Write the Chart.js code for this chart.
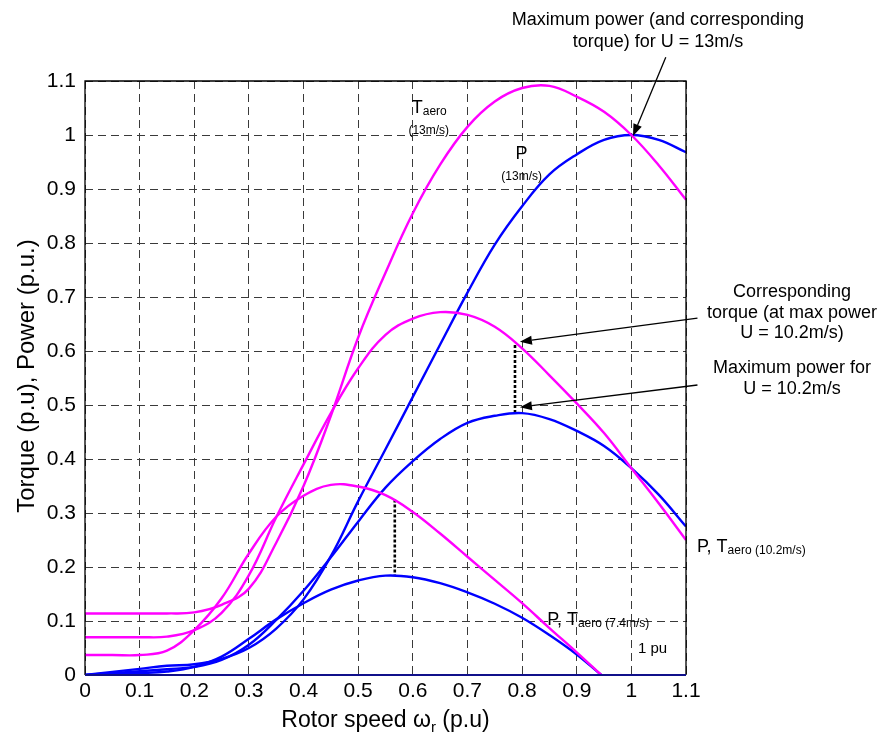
<!DOCTYPE html>
<html><head><meta charset="utf-8">
<script src="https://cdn.jsdelivr.net/npm/chart.js@4.4.1/dist/chart.umd.min.js"></script>
<style>html,body{margin:0;padding:0;background:#fff;}canvas{display:block;}</style>
</head><body>
<canvas id="c" width="880" height="738"></canvas>
<script>
const FONT = "'Liberation Sans', Arial, Helvetica, sans-serif";

// rotor speed samples (p.u.)
const speeds   = [0,0.05,0.1,0.15,0.2,0.25,0.3,0.35,0.4,0.45,0.5,0.55,0.6,0.65,0.7,0.75,0.8,0.85,0.9,0.95,1.0,1.05,1.1];
const speeds74 = [0,0.05,0.1,0.15,0.2,0.25,0.3,0.35,0.4,0.45,0.5,0.55,0.6,0.65,0.7,0.75,0.8,0.85,0.9,0.945];

// U = 13 m/s
const torque13 = [0.114,0.114,0.114,0.114,0.116,0.130,0.160,0.245,0.350,0.480,0.625,0.745,0.855,0.945,1.015,1.062,1.087,1.091,1.071,1.043,1.000,0.944,0.880];
const power13  = [0,0.0057,0.0114,0.0171,0.020,0.030,0.050,0.086,0.140,0.220,0.322,0.418,0.515,0.612,0.708,0.797,0.868,0.927,0.964,0.991,1.000,0.991,0.968];

// U = 10.2 m/s
const torque102 = [0.070,0.070,0.070,0.071,0.083,0.115,0.185,0.292,0.390,0.485,0.568,0.630,0.660,0.672,0.667,0.645,0.605,0.555,0.503,0.448,0.383,0.318,0.250];
const power102  = [0,0.0035,0.007,0.0107,0.015,0.028,0.056,0.102,0.156,0.218,0.284,0.347,0.396,0.437,0.467,0.480,0.485,0.474,0.452,0.424,0.383,0.334,0.275];

// U = 7.4 m/s
const torque74 = [0.037,0.037,0.037,0.045,0.083,0.142,0.225,0.293,0.332,0.352,0.349,0.333,0.302,0.262,0.219,0.176,0.133,0.087,0.042,0.0];
const power74  = [0,0.0019,0.0037,0.0065,0.015,0.034,0.067,0.103,0.133,0.158,0.175,0.184,0.181,0.170,0.153,0.132,0.106,0.074,0.038,0.0];

// maximum-power markers (speed, torque, power)
const maxPt102 = [0.787, 0.611, 0.485];
const maxPt74  = [0.567, 0.325, 0.185];

const xTickValues = [0,0.1,0.2,0.3,0.4,0.5,0.6,0.7,0.8,0.9,1.0,1.1];
const xTickLabels = ['0','0.1','0.2','0.3','0.4','0.5','0.6','0.7','0.8','0.9','1','1.1'];
const yTickValues = [0,0.1,0.2,0.3,0.4,0.5,0.6,0.7,0.8,0.9,1.0,1.1];
const yTickLabels = ['0','0.1','0.2','0.3','0.4','0.5','0.6','0.7','0.8','0.9','1','1.1'];

const MAG = '#FF00FF', BLU = '#0000FF';
const pts = (xs, ys) => xs.map((x, i) => ({x: x, y: ys[i]}));
const curve = (label, xs, ys, color) => ({
  label, data: pts(xs, ys), borderColor: color, backgroundColor: color,
  borderWidth: 2.4, pointRadius: 0, fill: false, tension: 0.4
});
const dotted = (m) => ({
  label: 'marker', data: [{x: m[0], y: m[1]}, {x: m[0], y: m[2]}],
  borderColor: '#000', borderWidth: 2.6, borderDash: [3, 2], pointRadius: 0, fill: false, tension: 0
});

// annotation anchors in data units
const arrows = [
  {from: [1.063, 1.144], to: [1.003, 0.998]},
  {from: [1.121, 0.661], to: [0.796, 0.617]},
  {from: [1.121, 0.537], to: [0.796, 0.496]}
];
const notes = [
  {x: 1.0486, lines: [['Maximum power (and corresponding', 1.2037], ['torque) for U = 13m/s', 1.163]]},
  {x: 1.294,  lines: [['Corresponding', 0.700], ['torque (at max power', 0.662], ['U = 10.2m/s)', 0.6235]]},
  {x: 1.294,  lines: [['Maximum power for', 0.5587], ['U = 10.2m/s', 0.520]]}
];

const annot = {
  id: 'annot',
  afterDatasetsDraw(chart) {
    const ctx = chart.ctx, xs = chart.scales.x, ys = chart.scales.y;
    const X = v => xs.getPixelForValue(v), Y = v => ys.getPixelForValue(v);
    const a = chart.chartArea;
    ctx.save();
    // axes box
    ctx.strokeStyle = '#000'; ctx.lineWidth = 1.3;
    ctx.beginPath();
    ctx.moveTo(a.left, a.bottom); ctx.lineTo(a.left, a.top); ctx.lineTo(a.right, a.top); ctx.lineTo(a.right, a.bottom);
    ctx.stroke();
    ctx.strokeStyle = '#10108a'; ctx.lineWidth = 2;
    ctx.beginPath(); ctx.moveTo(a.left, a.bottom); ctx.lineTo(a.right, a.bottom); ctx.stroke();

    // arrows
    ctx.strokeStyle = '#000'; ctx.fillStyle = '#000'; ctx.lineWidth = 1.3;
    arrows.forEach(ar => {
      const x1 = X(ar.from[0]), y1 = Y(ar.from[1]), x2 = X(ar.to[0]), y2 = Y(ar.to[1]);
      const ang = Math.atan2(y2 - y1, x2 - x1), L = 12, W = 4.5;
      const bx = x2 - L * Math.cos(ang), by = y2 - L * Math.sin(ang);
      ctx.beginPath(); ctx.moveTo(x1, y1); ctx.lineTo(bx, by); ctx.stroke();
      ctx.beginPath();
      ctx.moveTo(x2, y2);
      ctx.lineTo(bx + W * Math.sin(ang), by - W * Math.cos(ang));
      ctx.lineTo(bx - W * Math.sin(ang), by + W * Math.cos(ang));
      ctx.closePath(); ctx.fill();
    });

    // notes
    ctx.fillStyle = '#000';
    ctx.textAlign = 'center'; ctx.textBaseline = 'alphabetic';
    ctx.font = '18px ' + FONT;
    notes.forEach(n => n.lines.forEach(l => ctx.fillText(l[0], X(n.x), Y(l[1]))));

    // curve labels
    ctx.textAlign = 'left';
    const big = '18px ' + FONT, small = '12px ' + FONT;
    const mixed = (x, y, parts) => {
      let cx = x;
      parts.forEach(p => {
        ctx.font = p[1] ? small : big;
        ctx.fillText(p[0], cx, y + (p[1] ? 2 : 0));
        cx += ctx.measureText(p[0]).width;
      });
    };
    mixed(X(0.598), Y(1.041), [['T', 0], ['aero', 1]]);
    ctx.font = small; ctx.fillText('(13m/s)', X(0.592), Y(1.002));
    mixed(X(0.788), Y(0.955), [['P', 0]]);
    ctx.font = small; ctx.fillText('(13m/s)', X(0.762), Y(0.917));
    mixed(X(1.120), Y(0.228), [['P, T', 0], ['aero (10.2m/s)', 1]]);
    mixed(X(0.846), Y(0.0926), [['P, T', 0], ['aero (7.4m/s)', 1]]);
    ctx.font = '15px ' + FONT; ctx.fillText('1 pu', X(1.012), Y(0.040));

    // axis titles
    const tf = '23px ' + FONT, sf = '15px ' + FONT;
    const parts = [['Rotor speed ω', tf, 0], ['r', sf, 5], [' (p.u)', tf, 0]];
    let w = 0;
    parts.forEach(p => { ctx.font = p[1]; w += ctx.measureText(p[0]).width; });
    let cx = (a.left + a.right) / 2 - w / 2;
    parts.forEach(p => { ctx.font = p[1]; ctx.fillText(p[0], cx, 727 + p[2]); cx += ctx.measureText(p[0]).width; });

    ctx.save();
    ctx.translate(27, 376);
    ctx.rotate(-Math.PI / 2);
    ctx.textAlign = 'center'; ctx.textBaseline = 'middle';
    ctx.font = '24px ' + FONT;
    ctx.fillText('Torque (p.u), Power (p.u.)', 0, 0);
    ctx.restore();
    ctx.restore();
  }
};

const gridCommon = {color: '#3a3a3a', lineWidth: 1, drawTicks: false};
new Chart(document.getElementById('c'), {
  type: 'line',
  data: {
    datasets: [
      curve('Taero 13m/s', speeds, torque13, MAG),
      curve('Taero 10.2m/s', speeds, torque102, MAG),
      curve('Taero 7.4m/s', speeds74, torque74, MAG),
      curve('P 13m/s', speeds, power13, BLU),
      curve('P 10.2m/s', speeds, power102, BLU),
      curve('P 7.4m/s', speeds74, power74, BLU),
      dotted(maxPt102),
      dotted(maxPt74)
    ]
  },
  options: {
    responsive: false, animation: false, devicePixelRatio: 1,
    layout: {padding: {left: 0, right: 194, top: 81, bottom: 0}},
    plugins: {legend: {display: false}, tooltip: {enabled: false}},
    scales: {
      x: {
        type: 'linear', min: 0, max: 1.1,
        afterBuildTicks: s => { s.ticks = xTickValues.map(v => ({value: v})); },
        afterFit: s => { s.height = 63; },
        ticks: {callback: (v, i) => xTickLabels[i], font: {size: 21, family: FONT}, color: '#000', padding: 4, maxRotation: 0, autoSkip: false},
        grid: gridCommon,
        border: {display: false, dash: [8, 5]}
      },
      y: {
        type: 'linear', min: 0, max: 1.1,
        afterBuildTicks: s => { s.ticks = yTickValues.map(v => ({value: v})); },
        afterFit: s => { s.width = 85; },
        ticks: {callback: (v, i) => yTickLabels[i], font: {size: 21, family: FONT}, color: '#000', padding: 9, autoSkip: false},
        grid: gridCommon,
        border: {display: false, dash: [8, 5]}
      }
    }
  },
  plugins: [annot]
});
</script>
</body></html>
